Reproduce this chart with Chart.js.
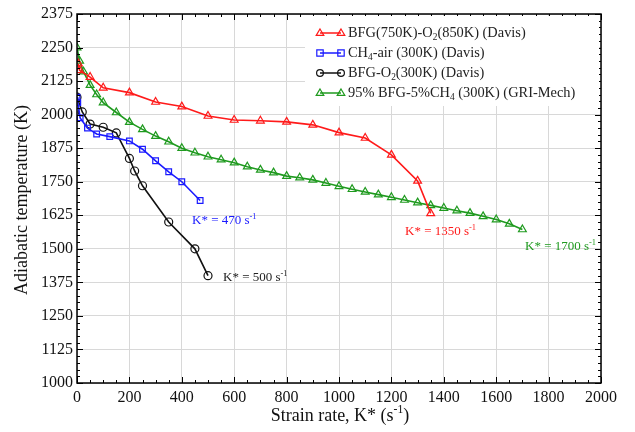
<!DOCTYPE html>
<html><head><meta charset="utf-8">
<script src="https://cdn.jsdelivr.net/npm/chart.js@4.4.0/dist/chart.umd.min.js"></script>
<style>html,body{margin:0;padding:0;background:#fff}#wrap{width:635px;height:432px}</style>
</head><body><div id="wrap"><canvas id="c" width="635" height="432"></canvas></div>
<script>
const xTicks = [0,200,400,600,800,1000,1200,1400,1600,1800,2000];
const yTicks = [1000,1125,1250,1375,1500,1625,1750,1875,2000,2125,2250,2375];

const redX = [5,10,50,100,200,300,400,500,600,700,800,900,1000,1100,1200,1300,1350];
const redY = [2190,2165,2140,2100,2082,2047,2030,1995,1980,1977,1973,1962,1933,1913,1850,1753,1632];

const blueX = [0,3,12,40,75,125,200,250,300,350,400,470];
const blueY = [2065,2045,1988,1950,1928,1918,1902,1871,1828,1787,1750,1680];

const blackX = [0,20,50,100,150,200,220,250,350,450,500];
const blackY = [2065,2010,1965,1953,1932,1837,1790,1735,1600,1500,1400];

const greenX = [0,10,25,50,75,100,150,200,250,300,350,400,450,500,550,600,650,700,750,800,850,900,950,1000,1050,1100,1150,1200,1250,1300,1350,1400,1450,1500,1550,1600,1650,1700];
const greenY = [2250,2200,2160,2110,2075,2045,2008,1972,1945,1920,1899,1875,1858,1843,1832,1821,1806,1794,1784,1771,1765,1757,1745,1733,1722,1712,1702,1692,1682,1672,1662,1652,1642,1633,1621,1609,1593,1572];

const RED = '#ff1a1a', BLUE = '#1a1aff', BLACK = '#111111', GREEN = '#1f9a1f';
const FONT = '"Liberation Serif", "Times New Roman", serif';

function pts(xs, ys){ return xs.map((x,i)=>({x, y: ys[i]})); }

function richWidth(ctx, parts, size){
  let w = 0;
  for (const [t,m] of parts){ ctx.font = (m ? size*0.65 : size) + 'px ' + FONT; w += ctx.measureText(t).width; }
  return w;
}
function rich(ctx, x, y, parts, size, color, align){
  const w = richWidth(ctx, parts, size);
  let cx = align === 'center' ? x - w/2 : x;
  ctx.fillStyle = color; ctx.textBaseline = 'middle'; ctx.textAlign = 'left';
  for (const [t,m] of parts){
    const s = m ? size*0.65 : size;
    ctx.font = s + 'px ' + FONT;
    const dy = m === 'sub' ? size*0.32 : (m === 'sup' ? -size*0.35 : 0);
    ctx.fillText(t, cx, y + dy);
    cx += ctx.measureText(t).width;
  }
}
function marker(ctx, style, x, y, r, color){
  ctx.save(); ctx.strokeStyle = color; ctx.lineWidth = 1.2;
  ctx.beginPath();
  if (style === 'triangle'){ ctx.moveTo(x, y - r); ctx.lineTo(x + r*0.95, y + r*0.6); ctx.lineTo(x - r*0.95, y + r*0.6); ctx.closePath(); }
  else if (style === 'rect'){ ctx.rect(x - r*0.8, y - r*0.8, r*1.6, r*1.6); }
  else { ctx.arc(x, y, r*0.85, 0, Math.PI*2); }
  ctx.stroke(); ctx.restore();
}

const plugin = {
  id: 'deco',
  beforeDraw(chart){ const c = chart.ctx; c.save(); c.fillStyle = '#fff'; c.fillRect(0,0,chart.width,chart.height); c.restore(); },
  afterDraw(chart){
    const c = chart.ctx, a = chart.chartArea, xs = chart.scales.x, ys = chart.scales.y;
    c.save();
    c.strokeStyle = '#000'; c.lineWidth = 1.5;
    c.strokeRect(a.left, a.top, a.right - a.left, a.bottom - a.top);
    c.lineWidth = 1;
    c.beginPath();
    for (let v = 1000; v <= 2375; v += 25){
      const p = Math.round(ys.getPixelForValue(v)) + 0.5;
      const L = (v - 1000) % 125 === 0 ? 6 : 3;
      c.moveTo(a.left, p); c.lineTo(a.left + L, p);
      c.moveTo(a.right, p); c.lineTo(a.right - L, p);
    }
    for (let v = 0; v <= 2000; v += 50){
      const p = Math.round(xs.getPixelForValue(v)) + 0.5;
      const L = v % 200 === 0 ? 6 : 3;
      c.moveTo(p, a.bottom); c.lineTo(p, a.bottom - L);
      c.moveTo(p, a.top); c.lineTo(p, a.top + L);
    }
    c.stroke();
    rich(c, 340, 416, [['Strain rate, K* (s',''],['-1','sup'],[')','']], 18, '#111', 'center');
    c.save(); c.translate(22, 200); c.rotate(-Math.PI/2);
    rich(c, 0, 0, [['Adiabatic temperature (K)','']], 18, '#111', 'center');
    c.restore();
    c.fillStyle = '#fff'; c.fillRect(305, 16, 294, 90);
    const leg = [
      ['triangle', RED, [['BFG(750K)-O',''],['2','sub'],['(850K) (Davis)','']]],
      ['rect', BLUE, [['CH',''],['4','sub'],['-air (300K) (Davis)','']]],
      ['circle', BLACK, [['BFG-O',''],['2','sub'],['(300K) (Davis)','']]],
      ['triangle', GREEN, [['95% BFG-5%CH',''],['4','sub'],[' (300K) (GRI-Mech)','']]]
    ];
    leg.forEach((e,i)=>{
      const y = 33 + i*20;
      c.strokeStyle = e[1]; c.lineWidth = 1.5;
      c.beginPath(); c.moveTo(320, y); c.lineTo(341, y); c.stroke();
      marker(c, e[0], 320, y, 4, e[1]); marker(c, e[0], 341, y, 4, e[1]);
      rich(c, 348, y, e[2], 14.4, '#222', 'left');
    });
    rich(c, 192, 221, [['K* = 470 s',''],['-1','sup']], 13, BLUE, 'left');
    rich(c, 405, 232, [['K* = 1350 s',''],['-1','sup']], 13, RED, 'left');
    rich(c, 525, 247, [['K* = 1700 s',''],['-1','sup']], 13, GREEN, 'left');
    rich(c, 223, 278, [['K* = 500 s',''],['-1','sup']], 13, '#222', 'left');
    c.restore();
  }
};

function ds(label, xs, ys, color, style){
  return { label, data: pts(xs, ys), borderColor: color, backgroundColor: 'rgba(255,255,255,0)',
    pointStyle: style, pointRadius: style === 'triangle' ? 4.5 : 4, pointBorderWidth: 1.2,
    pointBorderColor: color, pointBackgroundColor: 'rgba(255,255,255,0)',
    showLine: true, borderWidth: 1.6, tension: 0 };
}

new Chart(document.getElementById('c'), {
  type: 'scatter',
  data: { datasets: [
    ds('BFG(750K)-O2(850K) (Davis)', redX, redY, RED, 'triangle'),
    ds('CH4-air (300K) (Davis)', blueX, blueY, BLUE, 'rect'),
    ds('BFG-O2(300K) (Davis)', blackX, blackY, BLACK, 'circle'),
    ds('95% BFG-5%CH4 (300K) (GRI-Mech)', greenX, greenY, GREEN, 'triangle')
  ]},
  options: {
    responsive: false, animation: false, devicePixelRatio: 1,
    layout: { padding: { top: 14, right: 34, left: 0, bottom: 0 } },
    plugins: { legend: { display: false }, tooltip: { enabled: false } },
    scales: {
      x: { type: 'linear', min: 0, max: 2000,
        afterBuildTicks: s => { s.ticks = xTicks.map(v => ({ value: v })); },
        afterFit: s => { s.height = 49; },
        grid: { color: '#d8d8d8', lineWidth: 1, drawTicks: false },
        border: { display: false },
        ticks: { padding: 5, color: '#111', font: { family: FONT, size: 16 }, maxRotation: 0, callback: v => String(v) } },
      y: { type: 'linear', min: 1000, max: 2375,
        afterBuildTicks: s => { s.ticks = yTicks.map(v => ({ value: v })); },
        afterFit: s => { s.width = 77; },
        grid: { color: '#d8d8d8', lineWidth: 1, drawTicks: false },
        border: { display: false },
        ticks: { padding: 4, color: '#111', font: { family: FONT, size: 16 }, callback: v => String(v) } }
    }
  },
  plugins: [plugin]
});
</script></body></html>
